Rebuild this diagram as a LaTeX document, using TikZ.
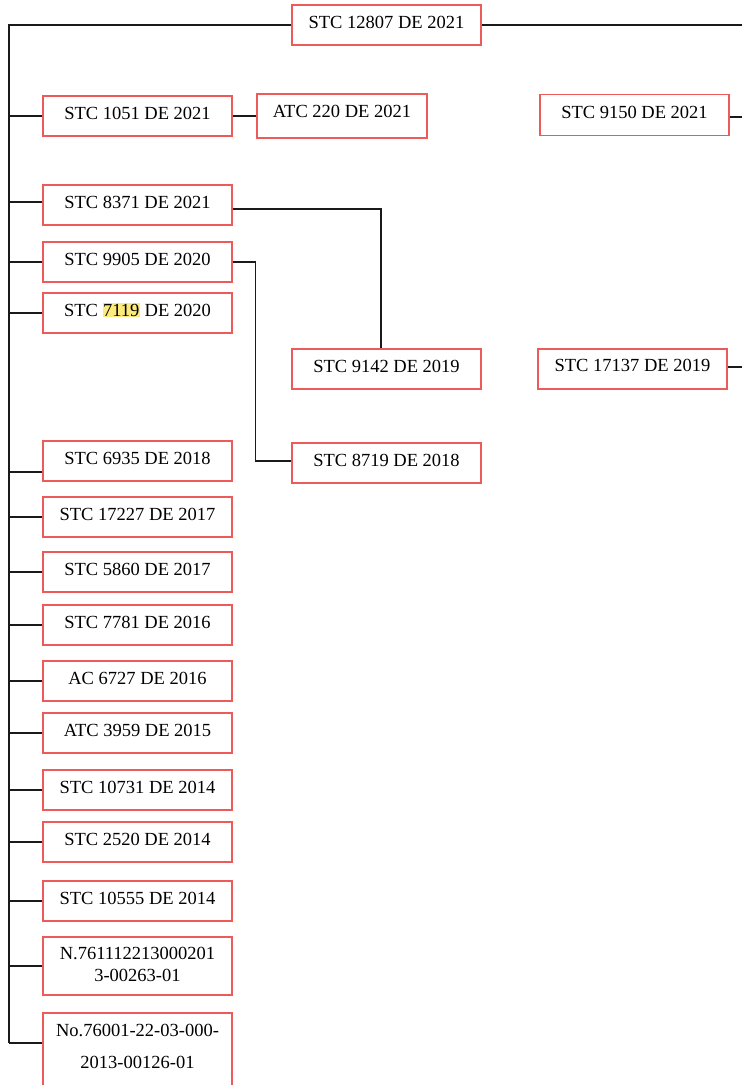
\documentclass[tikz,border=0pt]{standalone}
\usepackage{fontspec}
\setmainfont{Liberation Serif}
\usepackage{xcolor}
\usetikzlibrary{positioning, calc}
\definecolor{cBoxEdge}  {HTML}{EE5A5A}
\definecolor{cLink}     {HTML}{1A1A1A}
\definecolor{cMarkYel}  {HTML}{FBEB7C}
\newcommand{\hlnum}[1]{{\setlength{\fboxsep}{0.6pt}\colorbox{cMarkYel}{#1}}}

\tikzset{
  refbox/.style={draw=cBoxEdge, line width=1.2pt, minimum width=189pt, minimum height=40pt,
                 inner sep=0pt, align=center, font=\fontsize{18.5}{22}\selectfont,
                 text height=12pt, text depth=6pt},
  link/.style={draw=cLink, line width=1.1pt},
}

\begin{document}
\begin{tikzpicture}[x=1pt, y=-1pt]
        \useasboundingbox (0,0) rectangle (742,1085);
        \clip (0,0) rectangle (742,1085);
        % root and right side
        \node[refbox] (root)  at (386.5, 25)  {STC 12807 DE 2021};
        \node[refbox] (s1051) at (137.5, 116) {STC 1051 DE 2021};
        \node[refbox, minimum width=170pt, minimum height=44pt, text depth=9pt] (a220) at (342, 116) {ATC 220 DE 2021};
        \node[refbox, minimum height=41pt] (s9150) at (634.5, 115) {STC 9150 DE 2021};
        \node[refbox] (s8371) at (137.5, 205) {STC 8371 DE 2021};
        \node[refbox] (s9905) at (137.5, 262) {STC 9905 DE 2020};
        \node[refbox] (s7119) at (137.5, 313) {STC \hlnum{7119} DE 2020};
        \node[refbox] (s9142) at (386.5, 369) {STC 9142 DE 2019};
        \node[refbox, text depth=8pt] (s17137) at (632.5, 369) {STC 17137 DE 2019};
        \node[refbox] (s6935) at (137.5, 461) {STC 6935 DE 2018};
        \node[refbox] (s8719) at (386.5, 463) {STC 8719 DE 2018};
        % older rulings, left column
        \node[refbox] (s17227) at (137.5, 517) {STC 17227 DE 2017};
        \node[refbox] (s5860) at (137.5, 572) {STC 5860 DE 2017};
        \node[refbox] (s7781) at (137.5, 625) {STC 7781 DE 2016};
        \node[refbox] (a6727) at (137.5, 681) {AC 6727 DE 2016};
        \node[refbox] (a3959) at (137.5, 733) {ATC 3959 DE 2015};
        \node[refbox] (s10731) at (137.5, 790) {STC 10731 DE 2014};
        \node[refbox] (s2520) at (137.5, 842) {STC 2520 DE 2014};
        \node[refbox] (s10555) at (137.5, 901) {STC 10555 DE 2014};
        \node[refbox, minimum height=58pt, text height=34pt, text depth=3pt] (nRad) at (137.5, 966)
              {N.761112213000201\\3-00263-01};
        \node[refbox, minimum height=78pt, text height=44pt, text depth=12pt,
              font=\fontsize{18.5}{32}\selectfont] (nNum) at (137.5, 1052)
              {No.76001-22-03-000-\\2013-00126-01};

        \coordinate (trunkTop) at (9, 25);
        \coordinate (trunkBot) at (9, 1043);
        \coordinate (rightEdge) at (742, 25);

        % trunk
        \draw[link] (root.west) -- (trunkTop) -- (trunkBot);
        \draw[link] (root.east) -- (rightEdge);
        \draw[link] (trunkBot) -- (trunkBot -| nNum.west);
        % branches (yshift in pt, up is positive)
        \foreach \b/\dy in {s1051/0, s8371/3, s9905/0, s7119/0, s6935/-11, s17227/0,
                            s5860/0, s7781/0, a6727/0, a3959/0, s10731/0, s2520/0, s10555/0, nRad/0}
          \draw[link] ([yshift=\dy pt]\b.west) -- ([yshift=\dy pt]\b.west -| trunkTop);
        \draw[link] (s1051.east) -- (a220.west);
        \draw[link] ([yshift=-2pt]s9150.east) -- ([yshift=-2pt]s9150.east -| rightEdge);
        \draw[link] ([yshift=2pt]s17137.east) -- ([yshift=2pt]s17137.east -| rightEdge);
        \draw[link] ([yshift=-4pt]s8371.east) -| ([xshift=-5.5pt]s9142.north);
        \draw[link] (s9905.east) -- ++(23,0) |- ([yshift=2pt]s8719.west);
      \end{tikzpicture}
\end{document}
